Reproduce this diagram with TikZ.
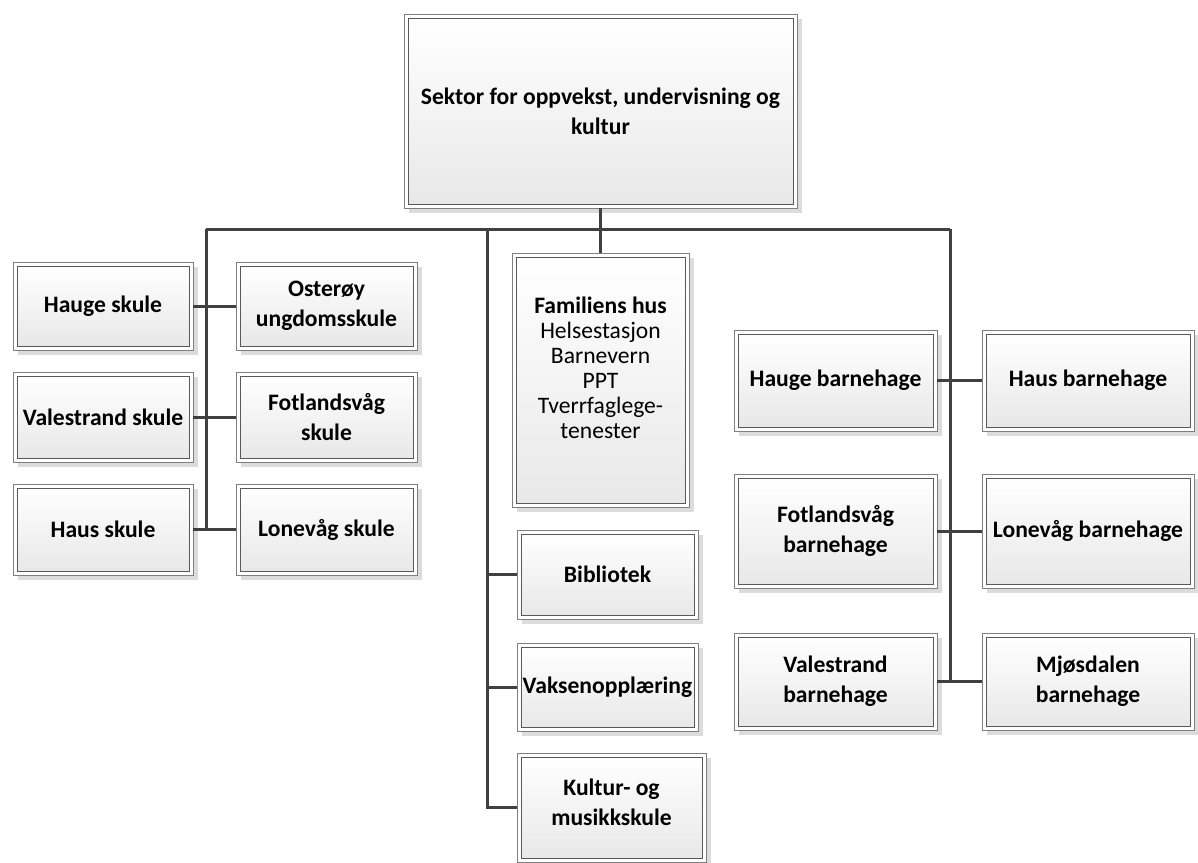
\documentclass[tikz,border=0pt]{standalone}
\usepackage{fontspec}
\setmainfont{Carlito}
\usetikzlibrary{calc}
\definecolor{linec}{HTML}{404040}
\definecolor{outerc}{HTML}{7F7F7F}
\definecolor{innerc}{HTML}{595959}
\definecolor{shadowc}{HTML}{DCDCDC}
\definecolor{bottomc}{HTML}{E8E8E8}
\tikzset{
  outerbox/.style={draw=outerc, line width=1pt, fill=white, inner sep=0pt, outer sep=0pt, rectangle},
  innerbox/.style={draw=innerc, line width=1pt, top color=white, bottom color=bottomc},
  boxshadow/.style={fill=shadowc},
  boxtext/.style={align=center, font=\fontsize{23.6}{30}\selectfont, text=black, inner sep=0pt},
  tighttext/.style={font=\fontsize{23.6}{25}\selectfont},
  conn/.style={draw=linec, line width=3pt}
}
\newcommand\orgbox[7][]{%
  \fill[boxshadow] (#3+5,#4+5) rectangle (#5+5,#6+5);
  \node[outerbox, minimum width={(#5-#3)*1pt}, minimum height={(#6-#4)*1pt}] (#2) at ({(#3+#5)/2},{(#4+#6)/2}) {};
  \path[innerbox] ($(#2.north west)+(4pt,-4pt)$) rectangle ($(#2.south east)+(-4pt,4pt)$);
  \node[boxtext,#1] (#2-t) at (#2.center) {#7};
}
\begin{document}
\begin{tikzpicture}[x=1pt,y=-1pt]
\useasboundingbox (0,0) rectangle (1198,862);
\coordinate (busL) at (206,229);
\coordinate (busM) at (487,229);
\coordinate (busR) at (950,229);
% boxes
\orgbox{top}{404}{14}{797}{208}{\textbf{Sektor for oppvekst, undervisning og}\\\textbf{kultur}}
\orgbox{hauge}{13}{262}{193}{350}{\textbf{Hauge skule}}
\orgbox{oster}{236}{262}{417}{350}{\textbf{Osterøy}\\\textbf{ungdomsskule}}
\orgbox{vales}{13}{372}{193}{462}{\textbf{Valestrand skule}}
\orgbox{fotl}{236}{372}{417}{462}{\textbf{Fotlandsvåg}\\\textbf{skule}}
\orgbox{haus}{13}{484}{193}{575}{\textbf{Haus skule}}
\orgbox{lonev}{236}{484}{417}{575}{\textbf{Lonevåg skule}}
\orgbox[tighttext, yshift=12pt]{fam}{512}{253}{689}{507}{\textbf{Familiens hus}\\Helsestasjon\\Barnevern\\PPT\\Tverrfaglege-\\tenester}
\orgbox{bibl}{517}{530}{698}{619}{\textbf{Bibliotek}}
\orgbox{vaks}{517}{643}{698}{731}{\textbf{Vaksenopplæring}}
\orgbox[yshift=5pt]{kult}{517}{753}{706}{862}{\textbf{Kultur- og}\\\textbf{musikkskule}}
\orgbox{hbh}{734}{330}{937}{431}{\textbf{Hauge barnehage}}
\orgbox{hausbh}{982}{330}{1194}{431}{\textbf{Haus barnehage}}
\orgbox{fbh}{734}{474}{937}{588}{\textbf{Fotlandsvåg}\\\textbf{barnehage}}
\orgbox{lbh}{982}{474}{1194}{588}{\textbf{Lonevåg barnehage}}
\orgbox{vbh}{734}{633}{937}{730}{\textbf{Valestrand}\\\textbf{barnehage}}
\orgbox{mbh}{982}{633}{1194}{730}{\textbf{Mjøsdalen}\\\textbf{barnehage}}
% connectors
\draw[conn] (top.south) -- (fam.north);
\draw[conn] (busL) -- (busR);
\draw[conn] (busL) -- (busL |- haus.east);
\draw[conn] (hauge.east) -- (oster.west);
\draw[conn] (vales.east) -- (fotl.west);
\draw[conn] (haus.east) -- (lonev.west);
\draw[conn] (busM) |- (kult.west);
\draw[conn] (busM |- bibl.west) -- (bibl.west);
\draw[conn] (busM |- vaks.west) -- (vaks.west);
\draw[conn] (busR) -- (busR |- vbh.east);
\draw[conn] (hbh.east) -- (hausbh.west);
\draw[conn] (fbh.east) -- (lbh.west);
\draw[conn] (vbh.east) -- (mbh.west);
\end{tikzpicture}
\end{document}
